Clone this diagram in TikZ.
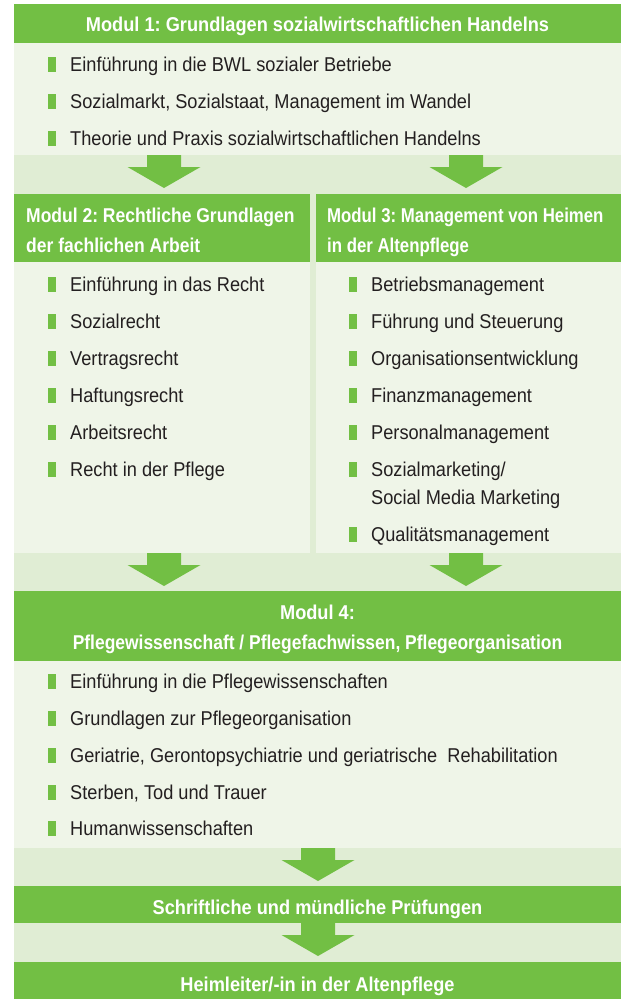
\documentclass[tikz,border=0pt]{standalone}
\usepackage{fontspec}
\setmainfont{Liberation Sans}[FakeStretch=0.91]
\newfontfamily\hdrcolA{Liberation Sans}[FakeStretch=0.875]
\newfontfamily\hdrcolB{Liberation Sans}[FakeStretch=0.84]
\newfontfamily\hdrwide{Liberation Sans}[FakeStretch=0.872]
\frenchspacing
\definecolor{hgreen}{HTML}{72BF44}
\definecolor{bodybg}{HTML}{EFF5E8}
\definecolor{bandbg}{HTML}{E0EDD4}
\definecolor{txt}{HTML}{231F20}
\newcommand\bitem[4]{%
  \fill[hgreen] (#2-22,#3-7.5) rectangle (#2-14,#3+7.5);
  \node[itemtext] (#1) at (#2,#3+7.2) {#4};}
\begin{document}
\frenchspacing
\begin{tikzpicture}[x=1pt,y=-1pt,
  boxbase/.style={inner sep=0pt, outer sep=0pt, anchor=north west},
  hdr/.style={boxbase, fill=hgreen},
  hdrtext/.style={inner sep=0pt, text=white, font=\fontsize{20}{30}\selectfont\bfseries},
  bodybox/.style={boxbase, fill=bodybg},
  itemtext/.style={anchor=base west, inner sep=0pt, text=txt, font=\fontsize{20}{28}\selectfont},
  blockarrow/.pic={\fill[hgreen] (-17,0) -- (17,0) -- (17,12) -- (36.5,12) -- (0,33) -- (-36.5,12) -- (-17,12) -- cycle;}]
\useasboundingbox (0,0) rectangle (622,999);
\fill[white] (0,0) rectangle (622,999);
\fill[bandbg] (14,4) rectangle (621,999);
% Modul 1
\node[hdr, minimum width=607, minimum height=39] (m1) at (14,4) {};
\node[hdrtext, anchor=base] (m1t) at (317.5,31) {Modul 1: Grundlagen sozialwirtschaftlichen Handelns};
\node[bodybox, minimum width=607, minimum height=112] (m1b) at (m1.south west) {};
\bitem{i11}{70}{64}{Einführung in die BWL sozialer Betriebe}
\bitem{i12}{70}{101}{Sozialmarkt, Sozialstaat, Management im Wandel}
\bitem{i13}{70}{138}{Theorie und Praxis sozialwirtschaftlichen Handelns}
% arrows band 1
\pic at (164,155) {blockarrow};
\pic at (466,155) {blockarrow};
% Modul 2 / 3 headers
\node[hdr, minimum width=296, minimum height=68] (m2) at (14,194) {};
\node[hdr, minimum width=305, minimum height=68] (m3) at (316,194) {};
\node[hdrtext, anchor=base west, font=\fontsize{20}{30}\hdrcolA\bfseries] (m2t1) at (26,222) {Modul 2: Rechtliche Grundlagen};
\node[hdrtext, anchor=base west, font=\fontsize{20}{30}\hdrcolA\bfseries] (m2t2) at (26,252) {der fachlichen Arbeit};
\node[hdrtext, anchor=base west, font=\fontsize{20}{30}\hdrcolB\bfseries] (m3t1) at (327,222) {Modul 3: Management von Heimen};
\node[hdrtext, anchor=base west, font=\fontsize{20}{30}\hdrcolB\bfseries] (m3t2) at (327,252) {in der Altenpflege};
\node[bodybox, minimum width=296, minimum height=291] (m2b) at (m2.south west) {};
\node[bodybox, minimum width=305, minimum height=291] (m3b) at (m3.south west) {};
\bitem{i21}{70}{284}{Einführung in das Recht}
\bitem{i22}{70}{321}{Sozialrecht}
\bitem{i23}{70}{358}{Vertragsrecht}
\bitem{i24}{70}{395}{Haftungsrecht}
\bitem{i25}{70}{432}{Arbeitsrecht}
\bitem{i26}{70}{469}{Recht in der Pflege}
\bitem{i31}{371}{284}{Betriebsmanagement}
\bitem{i32}{371}{321}{Führung und Steuerung}
\bitem{i33}{371}{358}{Organisationsentwicklung}
\bitem{i34}{371}{395}{Finanzmanagement}
\bitem{i35}{371}{432}{Personalmanagement}
\bitem{i36}{371}{469}{Sozialmarketing/}
\node[itemtext] (i36b) at (371,504.2) {Social Media Marketing};
\bitem{i37}{371}{534}{Qualitätsmanagement}
% arrows band 2
\pic at (164,553) {blockarrow};
\pic at (466,553) {blockarrow};
% Modul 4
\node[hdr, minimum width=607, minimum height=70] (m4) at (14,591) {};
\node[hdrtext, anchor=base] (m4t1) at (317.5,619) {Modul 4:};
\node[hdrtext, anchor=base, font=\fontsize{20}{30}\hdrwide\bfseries] (m4t2) at (317.5,649) {Pflegewissenschaft / Pflegefachwissen, Pflegeorganisation};
\node[bodybox, minimum width=607, minimum height=187] (m4b) at (m4.south west) {};
\bitem{i41}{70}{681}{Einführung in die Pflegewissenschaften}
\bitem{i42}{70}{718}{Grundlagen zur Pflegeorganisation}
\bitem{i43}{70}{755}{Geriatrie, Gerontopsychiatrie und geriatrische\ \ Rehabilitation}
\bitem{i44}{70}{792}{Sterben, Tod und Trauer}
\bitem{i45}{70}{828}{Humanwissenschaften}
% arrow band 3
\pic at (318,848) {blockarrow};
\node[hdr, minimum width=607, minimum height=37] (ex) at (14,886) {};
\node[hdrtext, anchor=base] (ext) at (317.5,914) {Schriftliche und mündliche Prüfungen};
% arrow band 4
\pic at (318,923) {blockarrow};
\node[hdr, minimum width=607, minimum height=37] (hl) at (14,962) {};
\node[hdrtext, anchor=base] (hlt) at (317.5,991) {Heimleiter/-in in der Altenpflege};
\end{tikzpicture}
\end{document}
